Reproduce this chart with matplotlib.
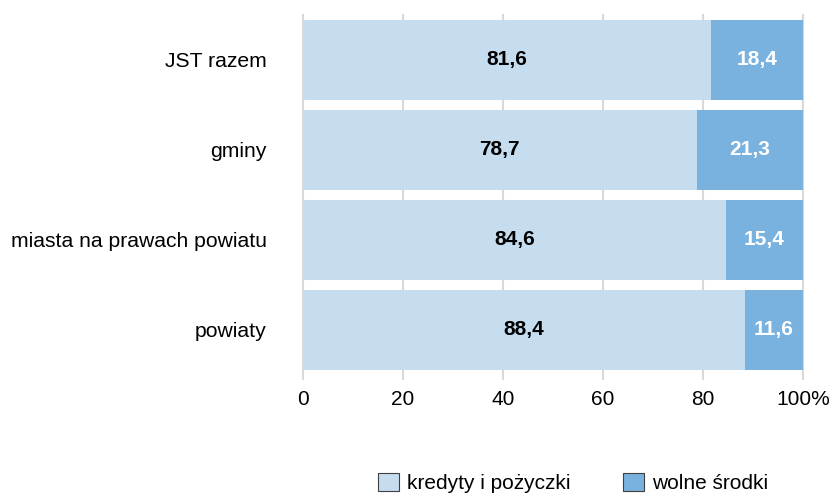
import matplotlib.pyplot as plt
import numpy as np

plt.rcParams['font.family'] = ['Liberation Sans', 'DejaVu Sans']

categories = ['JST razem', 'gminy', 'miasta na prawach powiatu', 'powiaty']
kredyty = [81.6, 78.7, 84.6, 88.4]
wolne = [18.4, 21.3, 15.4, 11.6]
xticklabels = ['0', '20', '40', '60', '80', '100%']

light = '#C6DDF0'
dark = '#7AB2DF'
grid = '#D9D9D9'

fig = plt.figure(figsize=(8.37, 4.98), dpi=100)
ax = fig.add_axes([0.362, 0.247, 0.5974, 0.723])

y = np.arange(len(categories))
b1 = ax.barh(y, kredyty, height=0.88, color=light, label='kredyty i pożyczki', zorder=2)
b2 = ax.barh(y, wolne, left=kredyty, height=0.88, color=dark, label='wolne środki', zorder=2)

for i in range(len(categories)):
    ax.text(kredyty[i] / 2, y[i], f'{kredyty[i]:.1f}'.replace('.', ','),
            ha='center', va='center', fontsize=15, fontweight='bold', color='black', zorder=3)
    ax.text(kredyty[i] + wolne[i] / 2, y[i], f'{wolne[i]:.1f}'.replace('.', ','),
            ha='center', va='center', fontsize=15, fontweight='bold', color='white', zorder=3)

ax.set_xlim(0, 100)
ax.set_ylim(3.5, -0.5)
ax.set_xticks([0, 20, 40, 60, 80, 100])
ax.set_xticklabels(xticklabels, fontsize=15)
ax.set_yticks(y)
ax.set_yticklabels(categories, fontsize=15.2)
ax.tick_params(axis='y', length=0, pad=26)
ax.tick_params(axis='x', length=0, pad=11)
for xv in [0, 20, 40, 60, 80, 100]:
    ax.axvline(xv, ymin=-0.012, ymax=1, color=grid, linewidth=1.5, zorder=1, clip_on=False)
for s in ax.spines.values():
    s.set_visible(False)

leg = fig.legend(handles=[b1, b2], loc='center', bbox_to_anchor=(0.685, 0.03), ncol=2,
                 frameon=False, fontsize=15, handlelength=1.0, handleheight=1.0,
                 columnspacing=2.5, handletextpad=0.4)
for p in leg.get_patches():
    p.set_edgecolor('#404040')
    p.set_linewidth(0.8)

fig.savefig('out.png', dpi=100)
